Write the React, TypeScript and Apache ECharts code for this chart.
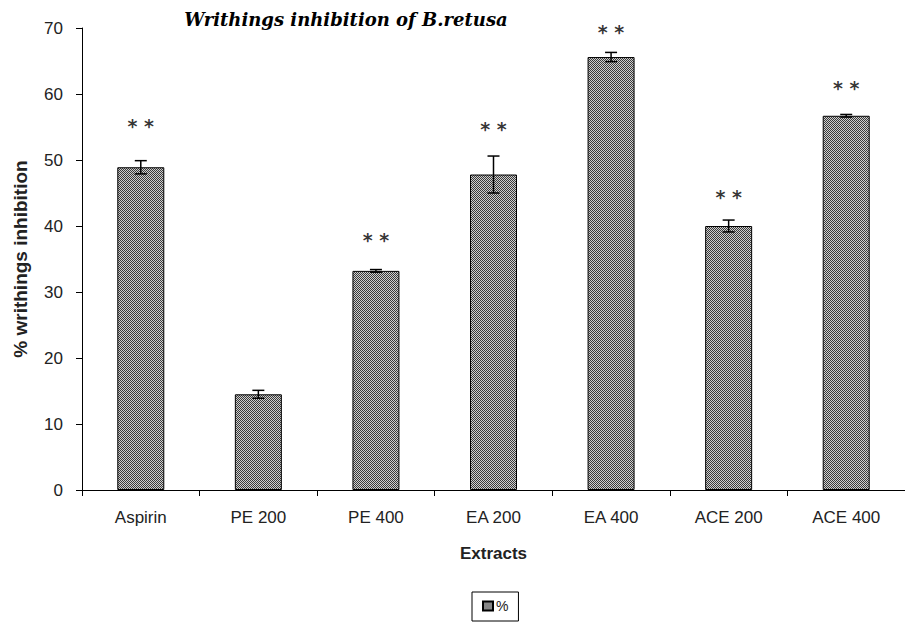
import React, { useEffect, useRef } from "react";
import * as echarts from "echarts";

const categories = ["Aspirin", "PE 200", "PE 400", "EA 200", "EA 400", "ACE 200", "ACE 400"];
const inhibition = [48.9, 14.5, 33.2, 47.8, 65.6, 40.0, 56.7];
const errors = [1.0, 0.6, 0.2, 2.8, 0.7, 0.9, 0.2];
const starCategories = ["Aspirin", "PE 400", "EA 200", "EA 400", "ACE 200", "ACE 400"];
const starLevels = [55.2, 37.9, 54.7, 69.4, 44.4, 60.9];
const yTicks = { min: 0, max: 70, interval: 10 };

function makeTile(): HTMLCanvasElement {
  const c = document.createElement("canvas");
  c.width = 2;
  c.height = 2;
  const ctx = c.getContext("2d")!;
  ctx.fillStyle = "#cfcfcf";
  ctx.fillRect(0, 0, 2, 2);
  ctx.fillStyle = "#3a3a3a";
  ctx.fillRect(0, 0, 1, 1);
  ctx.fillRect(1, 1, 1, 1);
  return c;
}

export default function App() {
  const ref = useRef<HTMLDivElement>(null);
  useEffect(() => {
    if (!ref.current) return;
    const chart = echarts.init(ref.current, undefined, { renderer: "svg" });
    const tile = makeTile();
    const pattern: any = { image: tile, repeat: "repeat" };
    const font = "'Liberation Sans', Arial, sans-serif";
    chart.setOption({
      animation: false,
      backgroundColor: "#fff",
      title: {
        text: "Writhings inhibition of B.retusa",
        left: 341,
        textAlign: "center",
        top: 5,
        textStyle: {
          fontFamily: "'DejaVu Serif', serif",
          fontStyle: "italic",
          fontWeight: "bold",
          fontSize: 18,
          color: "#000",
        },
      },
      legend: {
        data: [{ name: "%", icon: "rect" }],
        top: 592,
        left: 472,
        borderColor: "#000",
        borderWidth: 1,
        borderRadius: 0,
        padding: [7, 10, 8, 10],
        itemWidth: 10,
        itemHeight: 9,
        itemGap: 4,
        textStyle: { fontFamily: font, fontSize: 14, color: "#222", padding: [0, 0, 0, -2] },
      },
      grid: { left: 82, right: -8, top: 28, bottom: 137 },
      xAxis: {
        type: "category",
        data: categories,
        name: "Extracts",
        nameLocation: "middle",
        nameGap: 55,
        nameTextStyle: { fontFamily: font, fontWeight: "bold", fontSize: 17, color: "#222" },
        axisLine: { lineStyle: { color: "#000", width: 1 } },
        axisTick: { show: true, length: 6, lineStyle: { color: "#000" } },
        axisLabel: { fontFamily: font, fontSize: 17, color: "#222", margin: 19 },
      },
      yAxis: {
        type: "value",
        min: yTicks.min,
        max: yTicks.max,
        interval: yTicks.interval,
        name: "% writhings inhibition",
        nameLocation: "middle",
        nameGap: 52,
        nameTextStyle: { fontFamily: font, fontWeight: "bold", fontSize: 19, color: "#222" },
        axisLine: { show: true, lineStyle: { color: "#000", width: 1 } },
        axisTick: { show: true, length: 6, lineStyle: { color: "#000" } },
        axisLabel: { fontFamily: font, fontSize: 17, color: "#222", margin: 19 },
        splitLine: { show: false },
      },
      series: [
        {
          name: "%",
          type: "bar",
          data: inhibition,
          barWidth: 47,
          itemStyle: { color: pattern, borderColor: "#000", borderWidth: 1 },
        },
        {
          type: "custom",
          name: "err",
          data: categories.map((c, i) => [i, inhibition[i] - errors[i], inhibition[i] + errors[i]]),
          z: 10,
          renderItem: (params: any, api: any) => {
            const x = api.value(0);
            const lo = api.coord([x, api.value(1)]);
            const hi = api.coord([x, api.value(2)]);
            const hw = 6;
            const st = { stroke: "#000", lineWidth: 1.5 };
            return {
              type: "group",
              children: [
                { type: "line", shape: { x1: hi[0], y1: hi[1], x2: lo[0], y2: lo[1] }, style: st },
                { type: "line", shape: { x1: hi[0] - hw, y1: hi[1], x2: hi[0] + hw, y2: hi[1] }, style: st },
                { type: "line", shape: { x1: lo[0] - hw, y1: lo[1], x2: lo[0] + hw, y2: lo[1] }, style: st },
              ],
            };
          },
        },
        {
          type: "scatter",
          name: "stars",
          symbolSize: 1,
          itemStyle: { color: "transparent" },
          data: starCategories.map((c, i) => [c, starLevels[i]]),
          label: {
            show: true,
            position: "inside",
            formatter: "* *",
            fontFamily: "'DejaVu Sans', sans-serif",
            fontWeight: "bold",
            fontSize: 19,
            color: "#000",
          },
        },
      ],
    });
    return () => chart.dispose();
  }, []);
  return <div ref={ref} style={{ position: "fixed", left: 0, top: 0, width: 905, height: 627 }} />;
}
